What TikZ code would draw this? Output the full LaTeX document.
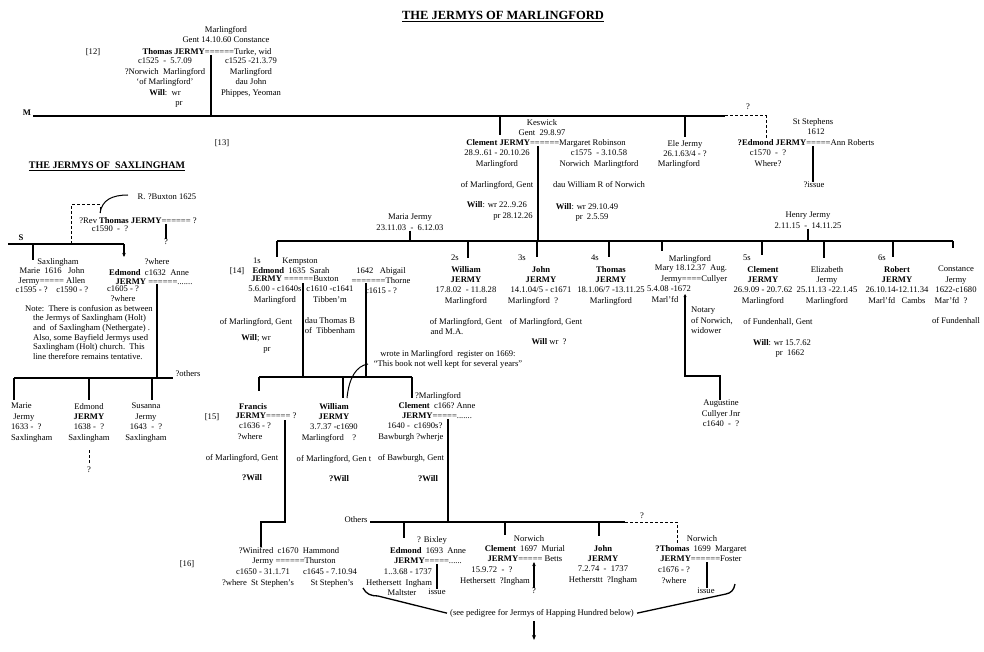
\documentclass[tikz,border=0pt]{standalone}
\usepackage{fontspec}
\setmainfont{Liberation Serif}
\usetikzlibrary{arrows.meta, calc}

\begin{document}
\begin{tikzpicture}[x=1pt, y=-1pt,
    txt/.style={font=\fontsize{8.6}{10.4}\selectfont, inner sep=0pt, align=center, anchor=north, yshift=3pt},
    sax/.style={txt, font=\fontsize{8.6}{9.5}\selectfont},
    ln/.style={line width=1.3pt},
    dl/.style={line width=1pt, dash pattern=on 3pt off 2pt},
    tip/.style={-{Stealth[length=4pt, width=3.5pt]}}]
    \useasboundingbox (0,0) rectangle (984,652);

    % Title
    \node[txt, font=\fontsize{12.5}{14}\selectfont\bfseries] (title) at (503,14) {\underline{THE JERMYS OF MARLINGFORD}};

    % Generation 12
    \node[txt] (g12) at (93,51) {[12]};
    \node[txt] (tho12a) at (226,29) {Marlingford\\Gent 14.10.60 Constance};
    \node[txt] (tho12) at (207,51) {\textbf{Thomas JERMY}======Turke, wid};
    \node[txt] (tho12h) at (165,61) {c1525\ \ -\ \ 5.7.09\\?Norwich\ \ Marlingford\\`of Marlingford'\\\textbf{Will}:\ \ wr\\\hspace*{28pt}pr};
    \node[txt] (tho12w) at (251,61) {c1525 -21.3.79\\Marlingford\\dau John\\Phippes, Yeoman};
    \node[txt, font=\fontsize{8.6}{10.4}\selectfont\bfseries] (mref) at (27,113) {M};

    % Generation 13
    \node[txt] (g13) at (222,142) {[13]};
    \node[txt] (cle13a) at (542,122) {Keswick\\Gent\ \ 29.8.97};
    \node[txt] (cle13) at (546,142) {\textbf{Clement JERMY}======Margaret Robinson};
    \node[txt] (cle13h) at (497,153) {28.9..61 - 20.10.26\\Marlingford\\[10.4pt]of Marlingford, Gent\\[10.4pt]\textbf{Will}: wr 22..9.26\\\hspace*{32pt}pr 28.12.26};
    \node[txt] (cle13w) at (599,153) {c1575\ \ - 3.10.58\\Norwich\ \ Marlingtford\\[10.4pt]dau William R of Norwich};
    \node[txt] (cle13v) at (587,206) {\textbf{Will}: wr 29.10.49\\\hspace*{10pt}pr\ \ 2.5.59};
    \node[txt] (ele13) at (685,143) {Ele Jermy\\26.1.63/4 - ?\\\hspace*{-12pt}Marlingford};
    \node[txt] (edm13a) at (813,121) {St Stephens\\\hspace*{6pt}1612};
    \node[txt] (edm13) at (806,142) {\textbf{?Edmond JERMY}=====Ann Roberts};
    \node[txt] (edm13h) at (768,153) {c1570\ \ -\ \ ?\\Where?};
    \node[txt] (iss13) at (814,185) {?issue};
    \node[txt] (qM) at (748,107) {?};

    % M line and drops
    \coordinate (bM) at (33,116);
    \coordinate (bMe) at (725,116);
    \coordinate (bMq) at (766,116);
    \draw[ln] (bM) -- (bMe);
    \draw[dl] (bMe) -- (bMq) -- (bMq |- edm13.north);
    \coordinate (m12) at (211,55);
    \draw[ln] (m12) -- (m12 |- bM);
    \coordinate (d13a) at (500,135);
    \coordinate (d13b) at (685,137);
    \foreach \d in {d13a, d13b} \draw[ln] (\d |- bM) -- (\d);
    \coordinate (m13e) at (813,146);
    \draw[ln] (m13e) -- (m13e |- iss13.north);

    % Saxlingham
    \node[txt, font=\fontsize{10}{12}\selectfont\bfseries] (sax) at (107,165) {\underline{THE JERMYS OF\ \ SAXLINGHAM}};
    \node[txt] (bux) at (167,197) {R. ?Buxton 1625};
    \node[txt] (rev) at (138,220) {?Rev \textbf{Thomas JERMY}====== ?};
    \node[txt] (revh) at (110,229) {c1590\ \ -\ \ ?};
    \node[txt] (revq) at (166,242) {?};
    \coordinate (mrv) at (166,224);
    \draw[ln] (mrv) -- (revq.north);
    \node[txt, font=\fontsize{8.6}{10.4}\selectfont\bfseries] (sref) at (21,238) {S};
    \coordinate (bS) at (8,244);
    \coordinate (bSe) at (124,244);
    \draw[ln] (bS) -- (bSe);
    \coordinate (dSa) at (33,260);
    \draw[ln] (dSa |- bS) -- (dSa);
    \coordinate (dSb) at (124,257);
    \draw[ln, tip] (bSe) -- (dSb);
    \coordinate (rtA) at (71,205);
    \coordinate (rtB) at (100,205);
    \coordinate (rtC) at (100,213);
    \coordinate (rtD) at (128,195);
    \draw[dl] (rtA |- bS) -- (rtA) -- (rtB) -- (rtC);
    \draw[ln, line width=1pt] (rtC) .. controls (102,200) and (112,195) .. (rtD);

    \node[sax] (mj) at (52,261) {\hspace*{12pt}Saxlingham\\Marie\ \ 1616\ \ \ John\\Jermy===== Allen\\c1595 - ?\ \ \ \ c1590 - ?};
    \node[sax] (esa) at (157,261) {?where};
    \node[sax] (es) at (149,272) {\textbf{Edmond}\ \ c1632\ \ Anne\\\hspace*{10pt}\textbf{JERMY} ======.......};
    \node[sax] (esh) at (123,289) {c1605 - ?\\?where};
    \node[sax, anchor=north west, align=left, font=\fontsize{8.6}{9.6}\selectfont] (note) at (25,308) {Note:\ \ There is confusion as between\\\hspace*{8pt}the Jermys of Saxlingham (Holt)\\\hspace*{8pt}and\ \ of Saxlingham (Nethergate) .\\\hspace*{8pt}Also, some Bayfield Jermys used\\\hspace*{8pt}Saxlingham (Holt) church.\ \ This\\\hspace*{8pt}line therefore remains tentative.};
    \coordinate (mes) at (157,284);
    \coordinate (bSc) at (14,378);
    \coordinate (bSce) at (173,378);
    \draw[ln] (mes) -- (mes |- bSc);
    \draw[ln] (bSc) -- (bSce);
    \node[sax] (oths) at (188,373) {?others};
    \coordinate (dSca) at (14,400);
    \coordinate (dScb) at (89,400);
    \coordinate (dScc) at (152,400);
    \foreach \d in {a,b,c} \draw[ln] (dSc\d |- bSc) -- (dSc\d);
    \node[txt, anchor=north west, align=left] (mj2) at (11,406) {Marie\\\ Jermy\\1633 -\ \ ?\\Saxlingham};
    \node[txt] (edm15s) at (89,406) {Edmond\\\textbf{JERMY}\\1638 -\ \ ?\\Saxlingham};
    \node[txt] (sus15s) at (146,406) {Susanna\\Jermy\\1643\ \ -\ \ ?\\Saxlingham};
    \node[txt] (edq) at (89,470) {?};
    \draw[dl, line width=0.6pt, shorten <=8pt, shorten >=3pt] (edm15s.south) -- (edq.north);

    % Generation 14
    \node[txt] (g14) at (237,270) {[14]};
    \node[txt] (maria) at (410,217) {Maria Jermy\\23.11.03\ \ -\ \ 6.12.03};
    \node[txt] (henry) at (808,215) {Henry Jermy\\2.11.15\ \ -\ \ 14.11.25};
    \node[txt] (s1) at (257,261) {1s};
    \node[txt] (kemp) at (300,261) {Kempston};
    \node[txt] (edm14) at (291,270) {\textbf{Edmond}\ \ 1635\ \ Sarah};
    \node[txt] (edm14m) at (295,279) {\textbf{JERMY} ======Buxton};
    \node[txt] (edm14h) at (275,289) {5.6.00 - c1640s\\Marlingford};
    \node[txt] (edm14g) at (256,321) {of Marlingford, Gent\\[6pt]\textbf{Will}; wr\\\hspace*{22pt}pr};
    \node[txt] (sar14) at (330,289) {c1610 -c1641\\Tibben'm\\[10.4pt]dau Thomas B\\of\ \ Tibbenham};
    \node[txt] (abi14) at (381,270) {1642\ \ \ Abigail\\=======Thorne\\c1615 - ?};
    \node[txt] (s2) at (455,258) {2s};
    \node[txt] (wil14) at (466,269) {\textbf{William}\\\textbf{JERMY}\\17.8.02\ \ - 11.8.28\\Marlingford\\[10.4pt]of Marlingford, Gent\\\hspace*{-38pt}and M.A.};
    \node[txt] (s3) at (522,258) {3s};
    \node[txt] (joh14) at (541,269) {\textbf{John}\\\textbf{JERMY}\\14.1.04/5 - c1671\\\hspace*{-16pt}Marlingford\ \ ?\\[10.4pt]\hspace*{10pt}of Marlingford, Gent\\[10.4pt]\hspace*{16pt}\textbf{Will} wr\ \ ?};
    \node[txt] (s4) at (595,258) {4s};
    \node[txt] (tho14) at (611,269) {\textbf{Thomas}\\\textbf{JERMY}\\18.1.06/7 -13.11.25\\Marlingford};
    \node[txt] (mar14a) at (690,258) {Marlingford};
    \node[txt] (mar14) at (691,268) {Mary 18.12.37\ \ Aug.\\\hspace*{6pt}Jermy====Cullyer};
    \node[txt] (mar14h) at (669,289) {5.4.08 -1672\\\hspace*{-8pt}Marl'fd};
    \node[txt, anchor=north west, align=left] (mar14w) at (691,310) {Notary\\of Norwich,\\widower};
    \node[txt] (aug14) at (721,403) {Augustine\\Cullyer Jnr\\c1640\ \ -\ \ ?};
    \node[txt] (s5) at (747,258) {5s};
    \node[txt] (cle14) at (763,269) {\textbf{Clement}\\\textbf{JERMY}\\26.9.09 - 20.7.62\\Marlingford};
    \node[txt] (cle14g) at (778,321) {of Fundenhall, Gent\\[10.4pt]\hspace*{8pt}\textbf{Will}: wr 15.7.62\\\hspace*{24pt}pr\ \ 1662};
    \node[txt] (eli14) at (827,269) {Elizabeth\\Jermy\\25.11.13 -22.1.45\\Marlingford};
    \node[txt] (s6) at (882,258) {6s};
    \node[txt] (rob14) at (897,269) {\textbf{Robert}\\\textbf{JERMY}\\26.10.14-12.11.34\\Marl'fd\ \ \ Cambs};
    \node[txt] (con14) at (956,269) {Constance\\Jermy\\1622-c1680\\\hspace*{-10pt}Mar'fd\ \ ?\\[10.4pt]of Fundenhall};
    \node[txt] (wrote) at (448,353) {wrote in Marlingford\ \ register on 1669:\\``This book not well kept for several years''};

    % bar of generation 14
    \coordinate (m13) at (538,146);
    \coordinate (b14) at (277,241);
    \coordinate (b14e) at (953,241);
    \draw[ln] (m13) -- (m13 |- b14);
    \draw[ln] (b14) -- (b14e);
    \draw[ln] (maria.south) -- (maria.south |- b14);
    \draw[ln] (henry.south) -- (henry.south |- b14);
    \coordinate (d14a) at (277,257);
    \coordinate (d14b) at (468,258);
    \coordinate (d14c) at (537,257);
    \coordinate (d14d) at (609,257);
    \coordinate (d14e) at (662,251);
    \coordinate (d14f) at (762,255);
    \coordinate (d14g) at (824,258);
    \coordinate (d14h) at (893,257);
    \coordinate (d14i) at (953,248);
    \foreach \d in {a,...,i} \draw[ln] (d14\d |- b14) -- (d14\d);

    % Mary and Aug. Cullyer
    \coordinate (m14m) at (685,294);
    \coordinate (a14) at (720,376);
    \draw[ln, {Stealth[length=3pt, width=3pt]}-] (m14m) -- (m14m |- a14) -- (a14) -- (a14 |- aug14.north);

    % Edmond's two marriages
    \coordinate (m14a) at (303,283);
    \coordinate (m14b) at (366,283);
    \coordinate (b15) at (259,377);
    \coordinate (b15e) at (412,377);
    \draw[ln] (b15) -- (b15e);
    \foreach \m in {m14a, m14b} \draw[ln] (\m) -- (\m |- b15);
    \coordinate (d15a) at (259,391);
    \coordinate (d15b) at (343,398);
    \coordinate (d15c) at (412,398);
    \foreach \d in {a,b,c} \draw[ln] (d15\d |- b15) -- (d15\d);
    \coordinate (wq) at (347,398);
    \coordinate (wqe) at (368,364);
    \draw[ln, line width=1pt] (wq) .. controls (349,378) and (356,366) .. (wqe);

    % Generation 15
    \node[txt] (g15) at (212,416) {[15]};
    \node[txt] (fra15) at (253,406) {\textbf{Francis}};
    \node[txt] (fra15m) at (266,416) {\textbf{JERMY}=====\ ?};
    \node[txt] (fra15h) at (242,426) {\hspace*{26pt}c1636 - ?\\\hspace*{16pt}?where\\[10.4pt]of Marlingford, Gent\\[10.4pt]\hspace*{20pt}\textbf{?Will}};
    \node[txt] (wil15) at (334,406) {\textbf{William}\\\textbf{JERMY}\\3.7.37 -c1690\\\hspace*{-10pt}Marlingford\ \ \ \ ?\\[10.4pt]of Marlingford, Gen t\\[10.4pt]\hspace*{10pt}\textbf{?Will}};
    \node[txt] (cle15a) at (438,395) {?Marlingford};
    \node[txt] (cle15) at (437,405) {\textbf{Clement}\ \ c166?\ Anne\\\textbf{JERMY}=====.......};
    \node[txt] (cle15h) at (411,426) {\hspace*{8pt}1640 -\ \ c1690s?\\Bawburgh ?wherje\\[10.4pt]of Bawburgh, Gent};
    \node[txt] (cle15w) at (428,478) {\textbf{?Will}};

    % lines to generation 16
    \coordinate (m15a) at (285,420);
    \coordinate (b16) at (370,522);
    \coordinate (b16e) at (625,522);
    \coordinate (b16q) at (677,522);
    \coordinate (d16w) at (261,547);
    \draw[ln] (m15a) -- (m15a |- b16) -- (d16w |- b16) -- (d16w);
    \coordinate (m15c) at (448,419);
    \draw[ln] (m15c) -- (m15c |- b16);
    \draw[ln] (b16) -- (b16e);

    % Generation 16
    \node[txt] (g16) at (187,563) {[16]};
    \node[txt] (win16) at (289,550) {?Winifred\ \ c1670\ \ Hammond\\\hspace*{10pt}Jermy ======Thurston};
    \node[txt] (win16h) at (258,572) {\hspace*{10pt}c1650 - 31.1.71\\?where\ \ St Stephen's};
    \node[txt] (win16w) at (330,572) {c1645 - 7.10.94\\\hspace*{4pt}St Stephen's};
    \node[txt] (oth) at (356,519) {Others};
    \node[txt] (q16) at (642,516) {?};
    \node[txt] (edm16a) at (432,539) {? Bixley};
    \node[txt] (edm16) at (428,550) {\textbf{Edmond}\ \ 1693\ \ Anne\\\textbf{JERMY}=====......};
    \node[txt] (edm16h) at (399,572) {\hspace*{18pt}1..3.68 - 1737\\Hethersett\ \ Ingham\\\hspace*{6pt}Maltster};
    \node[txt] (iss16a) at (437,592) {issue};
    \node[txt] (cle16a) at (529,538) {Norwich};
    \node[txt] (cle16) at (525,548) {\textbf{Clement}\ \ 1697\ \ Murial\\\textbf{JERMY}=====\ Betts};
    \node[txt] (cle16h) at (495,570) {\hspace*{-6pt}15.9.72\ \ -\ \ ?\\Hethersett\ \ ?Ingham};
    \node[txt] (q16b) at (534,591) {?};
    \node[txt] (joh16) at (603,548) {\textbf{John}\\\textbf{JERMY}\\7.2.74\ \ -\ \ 1737\\Hethersttt\ \ ?Ingham};
    \node[txt] (tho16a) at (702,538) {Norwich};
    \node[txt] (tho16) at (701,548) {\textbf{?Thomas}\ \ 1699\ \ Margaret\\\textbf{JERMY}======Foster};
    \node[txt] (tho16h) at (674,570) {c1676 - ?\\?where};
    \node[txt] (iss16d) at (706,591) {issue};
    \node[txt] (see) at (542,612) {(see pedigree for Jermys of Happing Hundred below)};

    \draw[dl] (b16e) -- (b16q) -- (b16q |- tho16.north);
    \coordinate (d16a) at (404,538);
    \coordinate (d16b) at (505,535);
    \coordinate (d16c) at (599,536);
    \foreach \d in {a,b,c} \draw[ln] (d16\d |- b16) -- (d16\d);
    \coordinate (m16a) at (437,564);
    \draw[ln] (m16a) -- (m16a |- iss16a.north);
    \coordinate (m16b) at (534,562);
    \draw[ln, tip] (q16b.north) -- (m16b);
    \coordinate (m16d) at (707,562);
    \draw[ln] (m16d) -- (m16d |- iss16d.north);

    % pointers to the Happing Hundred pedigree
    \coordinate (brL) at (363,588);
    \coordinate (brR) at (735,584);
    \draw[ln] (brL) .. controls (366,594) and (371,596) .. (378,596) -- ([xshift=-3pt]see.west);
    \draw[ln] (brR) .. controls (734,590) and (731,593) .. (726,594) -- ([xshift=3pt]see.east);
    \coordinate (dn) at (534,640);
    \draw[ln, -{Stealth[length=5pt, width=4pt]}, shorten <=4pt] (see.south -| dn) -- (dn);
\end{tikzpicture}
\end{document}
